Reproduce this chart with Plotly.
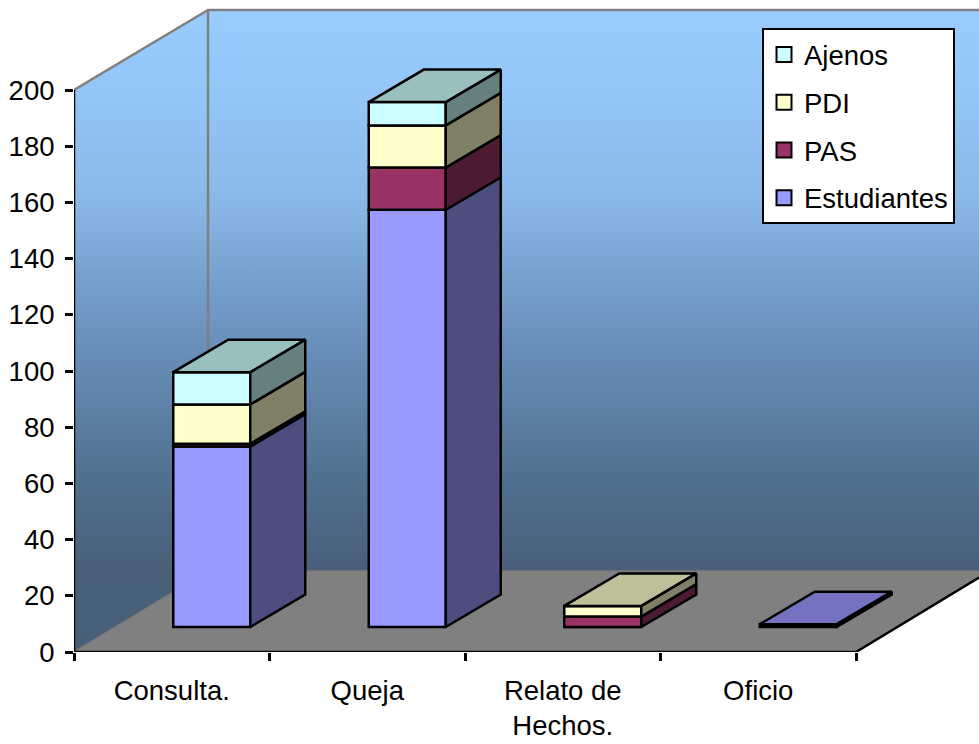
import plotly.graph_objects as go

categories = ["Consulta.", "Queja", "Relato de<br>Hechos.", "Oficio"]
estudiantes = [64.2, 148.5, 0, 1.0]
pas = [1.0, 15.0, 3.7, 0]
pdi = [14.0, 15.0, 3.8, 0]
ajenos = [11.5, 8.3, 0, 0]
series_names = ["Estudiantes", "PAS", "PDI", "Ajenos"]
series_values = [estudiantes, pas, pdi, ajenos]
front_colors = ["#9999FF", "#993366", "#FFFFCC", "#CCFFFF"]
side_colors = ["#4D4D80", "#4D1A33", "#808066", "#668080"]
top_colors = ["#7373BF", "#732650", "#BFBF99", "#99BFBF"]
y_ticks = list(range(0, 201, 20))

# pixel geometry of the oblique projection
W, H = 979, 744
PX0, PY0 = 74, 652
PX_X, PX_Y = 195.5, 2.81
wall_dx, wall_dy = 134 / PX_X, 81 / PX_Y
bar_dx, bar_dy = 55 / PX_X, 32.5 / PX_Y
off_x, off_y = 40 / PX_X, 25 / PX_Y
bar_w = 77 / PX_X
xmin = -0.5
xend = xmin + len(categories)
xr = [xmin, xmin + (W - PX0) / PX_X]
yr = [0, PY0 / PX_Y]
ymax = y_ticks[-1]
ytop = (PY0 - 10) / PX_Y
floor_right = (xr[1] - xend) / wall_dx * wall_dy

GRAD = dict(type="vertical", start=0, stop=ytop,
            colorscale=[[0, "#466078"], [0.136, "#4A607A"], [0.268, "#50708F"],
                        [0.393, "#5F83A9"], [0.564, "#739DCB"], [0.704, "#8AB8E8"],
                        [0.86, "#93C5F7"], [1, "#99CCFF"]])
GREY = "#808080"
LW = 2.5
fig = go.Figure()

def wall(xs, ys, **kw):
    fig.add_trace(go.Scatter(x=xs, y=ys, mode="lines", fill="toself", showlegend=False,
                             hoverinfo="skip", cliponaxis=False, **kw))

def seg(xs, ys, color, width=LW):
    fig.add_trace(go.Scatter(x=xs, y=ys, mode="lines", showlegend=False, hoverinfo="skip",
                             line=dict(color=color, width=width), cliponaxis=False))

# walls and floor
wall([xmin, xmin, xmin + wall_dx, xmin + wall_dx], [0, ymax, ytop, wall_dy],
     fillgradient=GRAD, line=dict(width=0))
wall([xmin + wall_dx, xmin + wall_dx, xr[1], xr[1]], [wall_dy, ytop, ytop, wall_dy],
     fillgradient=GRAD, line=dict(width=0))
fig.add_trace(go.Scatter(x=[xmin, xmin + wall_dx, xr[1], xr[1], xend],
                         y=[0, wall_dy, wall_dy, floor_right, 0],
                         mode="lines", fill="toself", fillcolor=GREY, line=dict(width=0),
                         showlegend=False, hoverinfo="skip"))
seg([xmin, xmin + wall_dx, xr[1]], [0, wall_dy, wall_dy], "#7A7A7A", 1.5)
seg([xmin, xmin + wall_dx, xr[1]], [ymax, ytop, ytop], GREY)
seg([xmin + wall_dx, xmin + wall_dx], [wall_dy, ytop], GREY)
seg([xmin, xmin], [0, ymax], "black")
seg([xmin, xend, xr[1]], [0, 0, floor_right], "black")

# bars and their faces, on an overlaying axis pair so they sit above the floor
cum = [0.0] * len(categories)
for s, (name, vals) in enumerate(zip(series_names, series_values)):
    bases = [off_y + c for c in cum]
    fig.add_trace(go.Bar(x=[i + off_x for i in range(len(vals))], y=vals, base=bases,
                         width=bar_w, marker=dict(color=front_colors[s], line=dict(color="black", width=LW)),
                         name=name, showlegend=False, xaxis="x2", yaxis="y2", hoverinfo="skip"))
    sx, sy, tx, ty = [], [], [], []
    for i, v in enumerate(vals):
        if v <= 0:
            continue
        r = i + off_x + bar_w / 2
        l = i + off_x - bar_w / 2
        b, t = bases[i], bases[i] + v
        sx += [r, r + bar_dx, r + bar_dx, r, r, None]
        sy += [b, b + bar_dy, t + bar_dy, t, b, None]
        if not any(series_values[k][i] > 0 for k in range(s + 1, len(series_values))):
            tx += [l, l + bar_dx, r + bar_dx, r, l, None]
            ty += [t, t + bar_dy, t + bar_dy, t, t, None]
    for xs, ys, col in ((sx, sy, side_colors[s]), (tx, ty, top_colors[s])):
        if xs:
            fig.add_trace(go.Scatter(x=xs, y=ys, mode="lines", fill="toself", fillcolor=col,
                                     line=dict(color="black", width=LW), showlegend=False,
                                     hoverinfo="skip", xaxis="x2", yaxis="y2"))
    cum = [c + v for c, v in zip(cum, vals)]

# legend entries (top of the stack first)
for s in reversed(range(len(series_names))):
    name = series_names[s]
    fig.add_trace(go.Scatter(x=[None], y=[None], mode="markers", name=name, legendgroup=name,
                             marker=dict(symbol="square", size=15, color=front_colors[s],
                                         line=dict(color="black", width=2)),
                             xaxis="x2", yaxis="y2"))

FONT = dict(family="Liberation Sans, Arial, sans-serif", size=27.5, color="black")
fig.update_layout(
    width=W, height=H, margin=dict(l=PX0, r=0, t=0, b=H - PY0),
    paper_bgcolor="white", plot_bgcolor="rgba(0,0,0,0)", barmode="overlay", font=FONT,
    xaxis=dict(range=xr, showgrid=False, zeroline=False, showline=False,
               tickmode="array", tickvals=list(range(len(categories))), ticktext=categories,
               ticks="", ticklabelstandoff=19, tickfont=FONT,
               minor=dict(tickmode="array", tickvals=[xmin + k for k in range(len(categories) + 1)],
                          ticks="outside", ticklen=8, tickwidth=LW, tickcolor="black")),
    yaxis=dict(range=yr, showgrid=False, zeroline=False, showline=False,
               tickmode="array", tickvals=y_ticks, ticks="outside", ticklen=8, tickwidth=LW,
               tickcolor="black", tickfont=FONT, ticklabelstandoff=5),
    xaxis2=dict(range=xr, overlaying="x", visible=False),
    yaxis2=dict(range=yr, overlaying="y", visible=False),
    legend=dict(x=(762 - PX0) / (W - PX0), y=(PY0 - 28) / PY0, xanchor="left", yanchor="top",
                bgcolor="white", bordercolor="black", borderwidth=2, font=FONT,
                traceorder="grouped", tracegroupgap=9, itemsizing="trace",
                entrywidth=142, entrywidthmode="pixels"),
)
fig.write_html("out.html", config=dict(displayModeBar=False),
               post_script="document.body.style.margin='0';document.body.style.overflow='hidden';")
